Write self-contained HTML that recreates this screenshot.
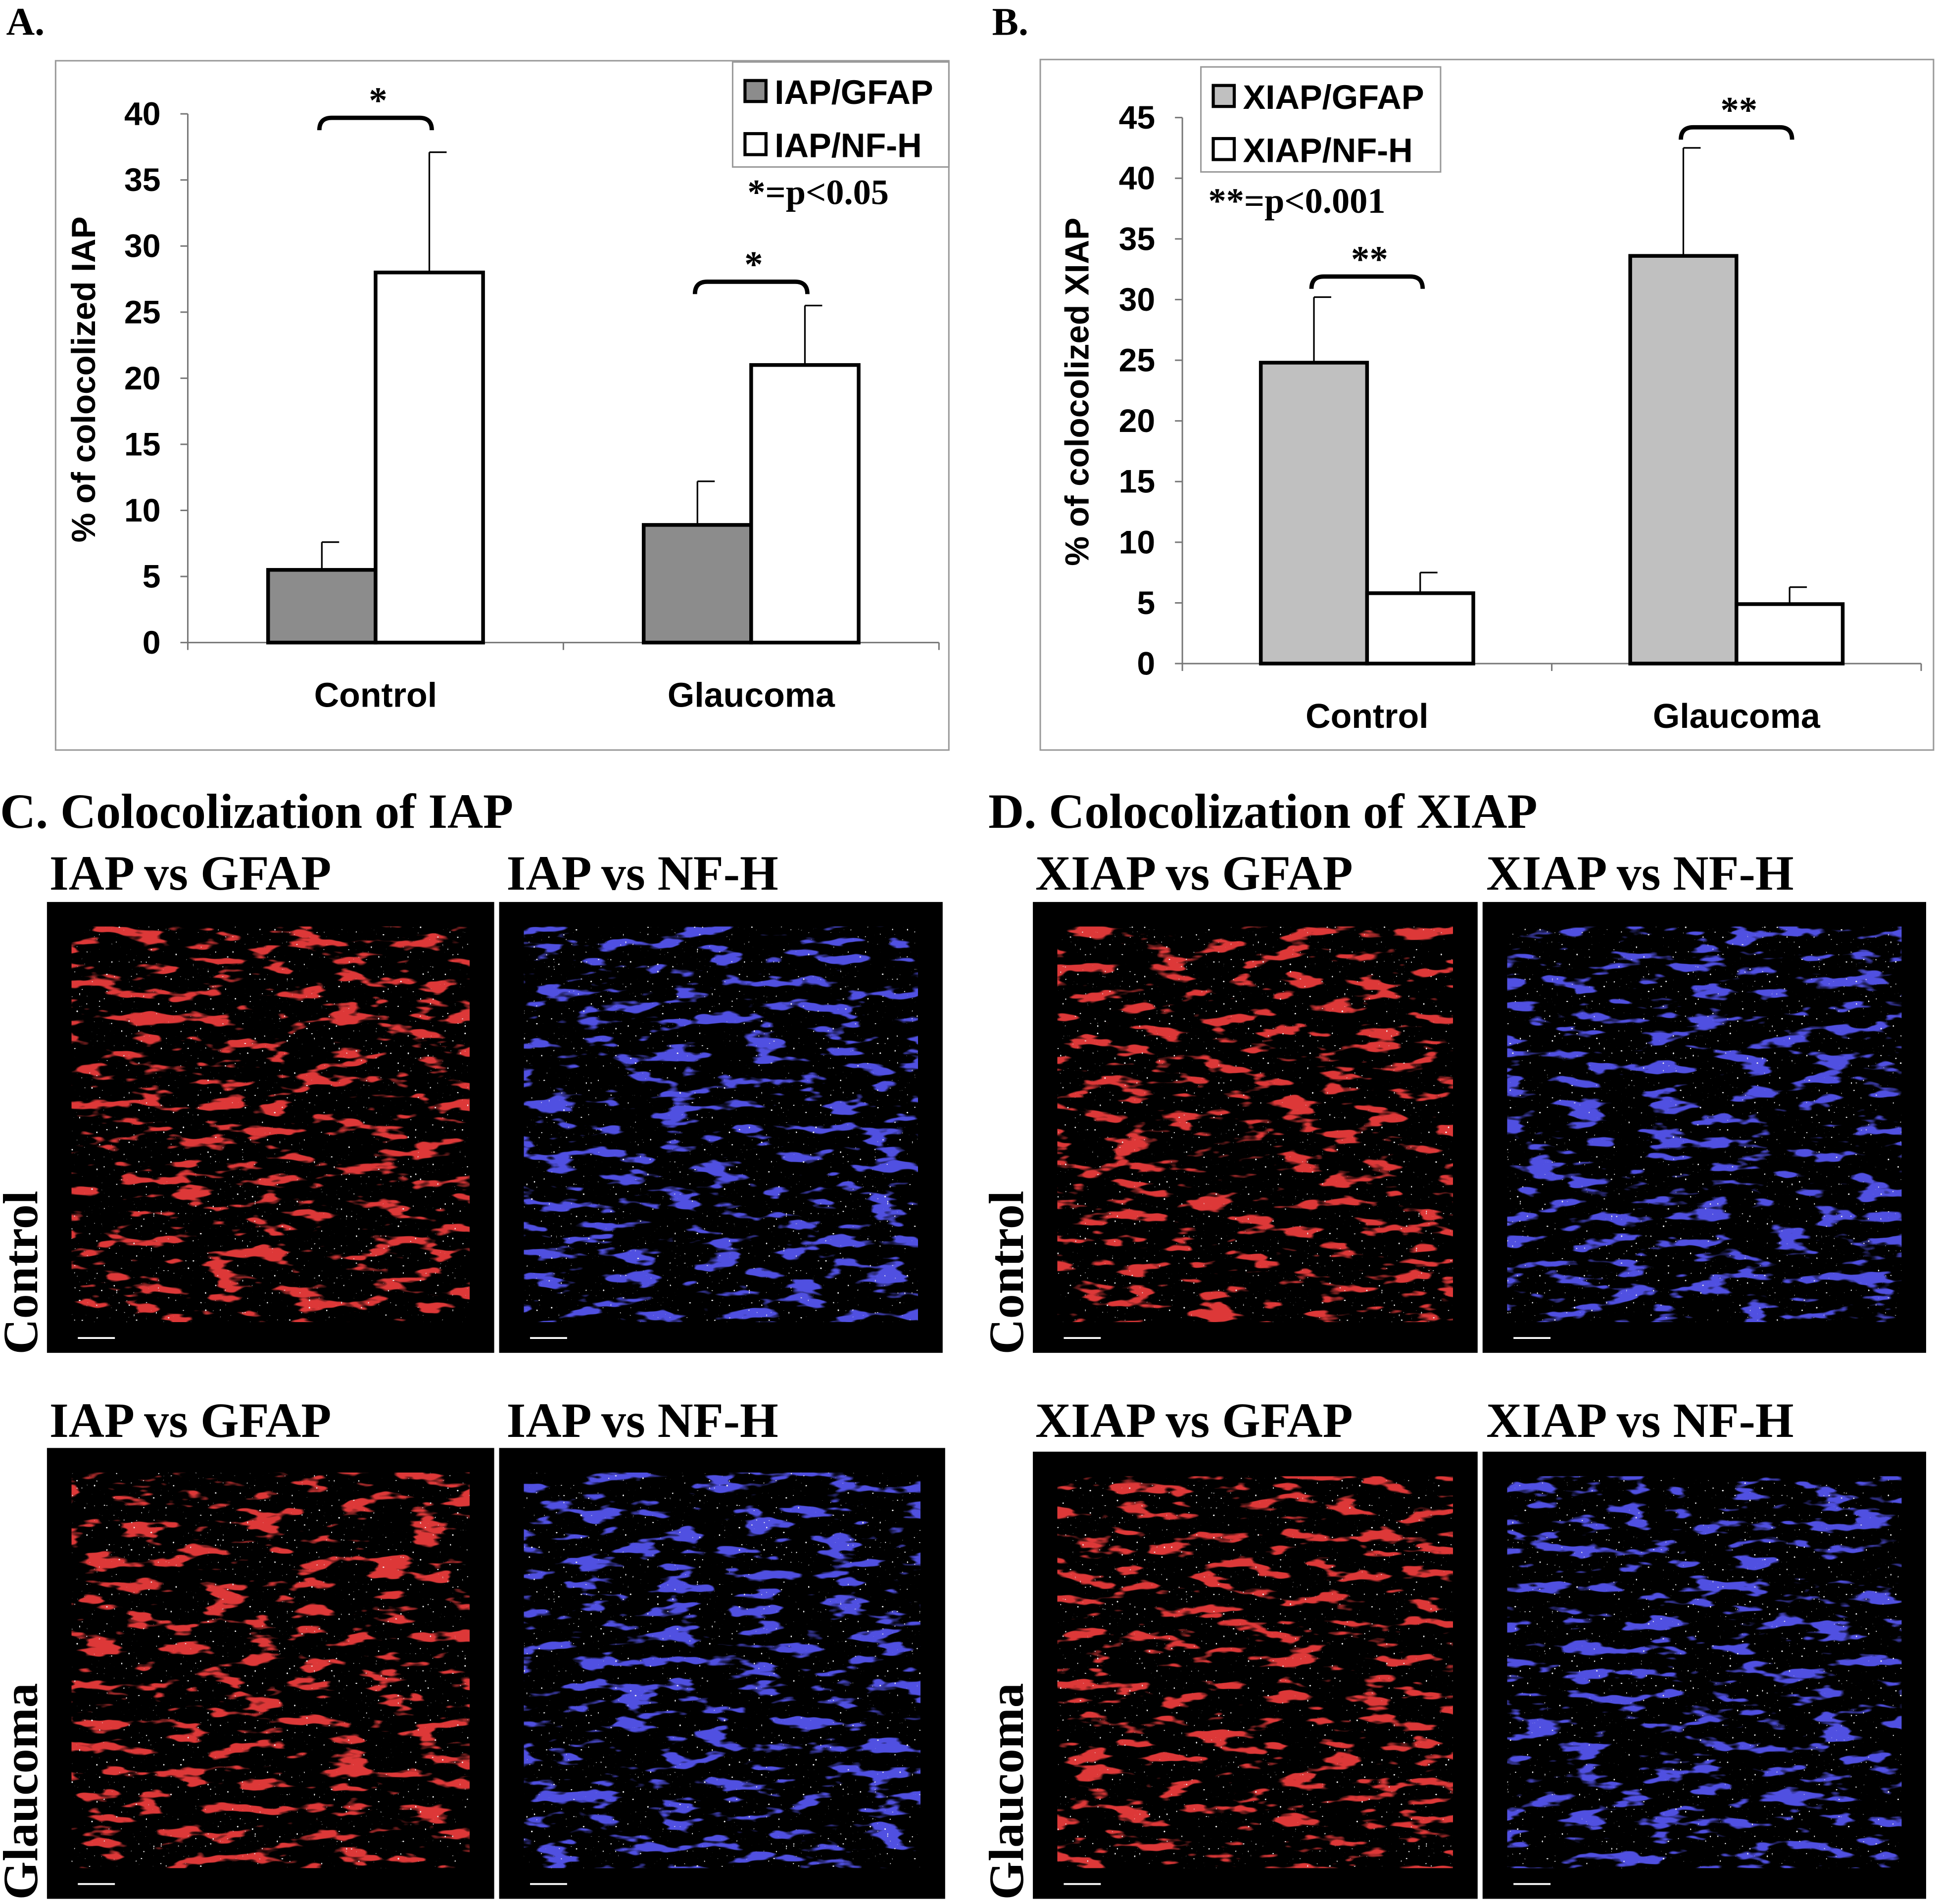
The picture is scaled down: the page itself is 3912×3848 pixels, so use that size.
<!DOCTYPE html>
<html><head><meta charset="utf-8"><style>
html,body{margin:0;padding:0;background:#fff;}
svg{display:block;}
.ax{font-family:"Liberation Sans",sans-serif;font-weight:bold;}
.tm{font-family:"Liberation Serif",serif;font-weight:bold;}
</style></head><body>
<svg id="fig" width="3912" height="3848" viewBox="0 0 1567 1541" xmlns="http://www.w3.org/2000/svg">
<defs>
<filter id="redTex" x="0" y="0" width="100%" height="100%">
<feTurbulence type="fractalNoise" baseFrequency="0.03 0.1" numOctaves="3" seed="3"/>
<feColorMatrix type="matrix" values="0 0 0 0 0.72  0 0 0 0 0.04  0 0 0 0 0.04  0 0 0 12 -6.9"/>
</filter>
<filter id="blueTex" x="0" y="0" width="100%" height="100%">
<feTurbulence type="fractalNoise" baseFrequency="0.03 0.1" numOctaves="3" seed="7"/>
<feColorMatrix type="matrix" values="0 0 0 0 0.08  0 0 0 0 0.08  0 0 0 0 0.75  0 0 0 12 -6.9"/>
</filter>
<filter id="dots" x="0" y="0" width="100%" height="100%">
<feTurbulence type="fractalNoise" baseFrequency="0.5" numOctaves="1" seed="11"/>
<feColorMatrix type="matrix" values="0 0 0 0 0.9  0 0 0 0 0.9  0 0 0 0 0.9  0 0 0 22 -16"/>
</filter>
</defs>
<text class="tm" x="5" y="28" font-size="32">A.</text>
<text class="tm" x="803" y="28" font-size="32">B.</text>
<g id="chartA"></g>
<g id="chartB"></g>

<text class="tm" x="0" y="670" font-size="40">C. Colocolization of IAP</text>
<text class="tm" x="800" y="670" font-size="40">D. Colocolization of XIAP</text>
<text class="tm" x="40" y="720" font-size="40">IAP vs GFAP</text>
<text class="tm" x="410" y="720" font-size="40">IAP vs NF-H</text>
<text class="tm" x="40" y="1163" font-size="40">IAP vs GFAP</text>
<text class="tm" x="410" y="1163" font-size="40">IAP vs NF-H</text>
<text class="tm" x="838" y="720" font-size="40">XIAP vs GFAP</text>
<text class="tm" x="1203" y="720" font-size="40">XIAP vs NF-H</text>
<text class="tm" x="838" y="1163" font-size="40">XIAP vs GFAP</text>
<text class="tm" x="1203" y="1163" font-size="40">XIAP vs NF-H</text>
<text class="tm" transform="translate(30,1030) rotate(-90)" text-anchor="middle" font-size="40">Control</text>
<text class="tm" transform="translate(30,1450) rotate(-90)" text-anchor="middle" font-size="40">Glaucoma</text>
<text class="tm" transform="translate(828,1030) rotate(-90)" text-anchor="middle" font-size="40">Control</text>
<text class="tm" transform="translate(828,1450) rotate(-90)" text-anchor="middle" font-size="40">Glaucoma</text>
<g id="images"></g>
</svg>
<script>
const NS="http://www.w3.org/2000/svg";
function mk(parent,tag,attrs,txt){const e=document.createElementNS(NS,tag);for(const k in attrs)e.setAttribute(k,attrs[k]);if(txt!==undefined)e.textContent=txt;parent.appendChild(e);return e;}

// ---- Chart A data ----
const catsA=["Control","Glaucoma"];
const gfapA=[5.5,8.9];
const gfapErrA=[2.1,3.3];
const nfhA=[28.0,21.0];
const nfhErrA=[9.1,4.5];
const ticksA=[0,5,10,15,20,25,30,35,40];
// ---- Chart B data ----
const catsB=["Control","Glaucoma"];
const gfapB=[24.8,33.6];
const gfapErrB=[5.4,8.9];
const nfhB=[5.8,4.9];
const nfhErrB=[1.7,1.4];
const ticksB=[0,5,10,15,20,25,30,35,40,45];

function chart(g,cfg){
  mk(g,"rect",{x:cfg.fx,y:cfg.fy,width:cfg.fw,height:cfg.fh,fill:"#fff",stroke:"#999","stroke-width":1.2});
  const y=v=>cfg.y0-(v/cfg.tmax)*(cfg.y0-cfg.yTop);
  const ax=mk(g,"g",{});
  
  
  mk(ax,"line",{x1:cfg.x0,y1:y(0),x2:cfg.x0,y2:y(cfg.tmax),stroke:"#777","stroke-width":1.2});
  cfg.ticks.forEach(t=>{
    mk(ax,"line",{x1:cfg.x0-6,y1:y(t),x2:cfg.x0,y2:y(t),stroke:"#777","stroke-width":1.2});
    const tl=mk(ax,"text",{x:cfg.x0-22,y:y(t)+9,"text-anchor":"end","font-size":26.5,class:"ax"},t);
    
    
  });
  const xa=mk(g,"g",{});
  
  
  mk(xa,"line",{x1:cfg.x0,y1:y(0),x2:cfg.xEnd,y2:y(0),stroke:"#777","stroke-width":1.2});
  const gw=(cfg.xEnd-cfg.x0)/cfg.cats.length;
  for(let i=0;i<=cfg.cats.length;i++) mk(xa,"line",{x1:cfg.x0+i*gw,y1:y(0),x2:cfg.x0+i*gw,y2:y(0)+6,stroke:"#777","stroke-width":1.2});
  const yt=mk(g,"text",{transform:`translate(${cfg.titleX},${cfg.titleY}) rotate(-90)`,"text-anchor":"middle","font-size":27,class:"ax"},cfg.title);
  
  
  const bw=cfg.bw;
  cfg.cats.forEach((c,i)=>{
    const cx=cfg.x0+gw*(i+0.5)+cfg.shift;
    const cl=mk(g,"text",{x:cx,y:y(0)+52,"text-anchor":"middle","font-size":28,class:"ax"},c);
    
    
    [[cfg.s1[i],cfg.e1[i],cfg.fill1,cx-bw,'bar-gfap'],[cfg.s2[i],cfg.e2[i],"#fff",cx,'bar-nfh']].forEach(([v,e,f,bx,nm])=>{
      const ex=bx+bw/2;
      mk(g,"line",{x1:ex,y1:y(v),x2:ex,y2:y(v+e),stroke:"#000","stroke-width":1.3});
      mk(g,"line",{x1:ex,y1:y(v+e),x2:ex+14,y2:y(v+e),stroke:"#000","stroke-width":1.3});
      const r=mk(g,"rect",{x:bx,y:y(v),width:bw,height:y(0)-y(v),fill:f,stroke:"#000","stroke-width":3});
      
      
    });
    const br=cfg.brackets[i];
    const by=y(br.v), bx1=cx-bw/2-2, bx2=cx+bw/2+2;
    const b=mk(g,"path",{d:`M${bx1} ${by+10} Q${bx1} ${by} ${bx1+10} ${by} L${bx2-10} ${by} Q${bx2} ${by} ${bx2} ${by+10}`,fill:"none",stroke:"#000","stroke-width":3.5});
    
    
    const st=mk(g,"text",{x:cx+2,y:by-4,"text-anchor":"middle","font-size":30,class:"tm"},br.s);
    
    
  });
  const lg=mk(g,"g",{});
  
  
  mk(lg,"rect",{x:cfg.lx,y:cfg.ly,width:cfg.lw,height:85,fill:"#fff",stroke:"#999","stroke-width":1.2});
  [[cfg.fill1,cfg.leg[0]],["#fff",cfg.leg[1]]].forEach(([f,t],k)=>{
    const it=mk(lg,"g",{});
    
    
    mk(it,"rect",{x:cfg.lx+10,y:cfg.ly+15+k*43,width:17,height:17,fill:f,stroke:"#000","stroke-width":2.5});
    mk(it,"text",{x:cfg.lx+34,y:cfg.ly+34+k*43,"font-size":27.5,class:"ax"},t);
  });
  const pn=mk(g,"text",{x:cfg.px,y:cfg.py,"font-size":29,class:"tm"},cfg.pnote);
  
  
}
chart(document.getElementById("chartA"),{fx:45,fy:49,fw:723,fh:558,x0:152,xEnd:760,y0:520,yTop:92,tmax:40,ticks:ticksA,
  cats:catsA,s1:gfapA,e1:gfapErrA,s2:nfhA,e2:nfhErrA,fill1:"#8c8c8c",bw:87,shift:0,
  title:"% of colocolized IAP",titleX:77,titleY:307,
  brackets:[{v:37.2+2.5,s:"*"},{v:27.3,s:"*"}],
  lx:593,ly:50,lw:175,leg:["IAP/GFAP","IAP/NF-H"],px:605,py:165,pnote:"*=p<0.05"});
chart(document.getElementById("chartB"),{fx:842,fy:48,fw:723,fh:559,x0:957,xEnd:1555,y0:537,yTop:95,tmax:45,ticks:ticksB,
  cats:catsB,s1:gfapB,e1:gfapErrB,s2:nfhB,e2:nfhErrB,fill1:"#c0c0c0",bw:86,shift:0,
  title:"% of colocolized XIAP",titleX:881,titleY:317,
  brackets:[{v:31.9,s:"**"},{v:44.2,s:"**"}],
  lx:972,ly:54,lw:194,leg:["XIAP/GFAP","XIAP/NF-H"],px:978,py:172,pnote:"**=p<0.001"});

const imgs=[
 [38,730,362,365,"redTex","c-control-gfap-image"],
 [404,730,359,365,"blueTex","c-control-nfh-image"],
 [38,1172,362,365,"redTex","c-glaucoma-gfap-image"],
 [404,1172,361,365,"blueTex","c-glaucoma-nfh-image"],
 [836,730,360,365,"redTex","d-control-gfap-image"],
 [1200,730,359,365,"blueTex","d-control-nfh-image"],
 [836,1175,360,362,"redTex","d-glaucoma-gfap-image"],
 [1200,1175,359,362,"blueTex","d-glaucoma-nfh-image"]];
const ig=document.getElementById("images");
imgs.forEach(([x,y,w,h,f,n])=>{
  const g=mk(ig,"g",{});
  
  
  mk(g,"rect",{x,y,width:w,height:h,fill:"#000"});
  mk(g,"rect",{x:x+20,y:y+20,width:w-40,height:h-45,filter:`url(#${f})`});
  mk(g,"rect",{x:x+20,y:y+20,width:w-40,height:h-45,filter:"url(#dots)"});
  mk(g,"line",{x1:x+25,y1:y+h-12,x2:x+55,y2:y+h-12,stroke:"#fff","stroke-width":1.5});
});
</script>
</body></html>
